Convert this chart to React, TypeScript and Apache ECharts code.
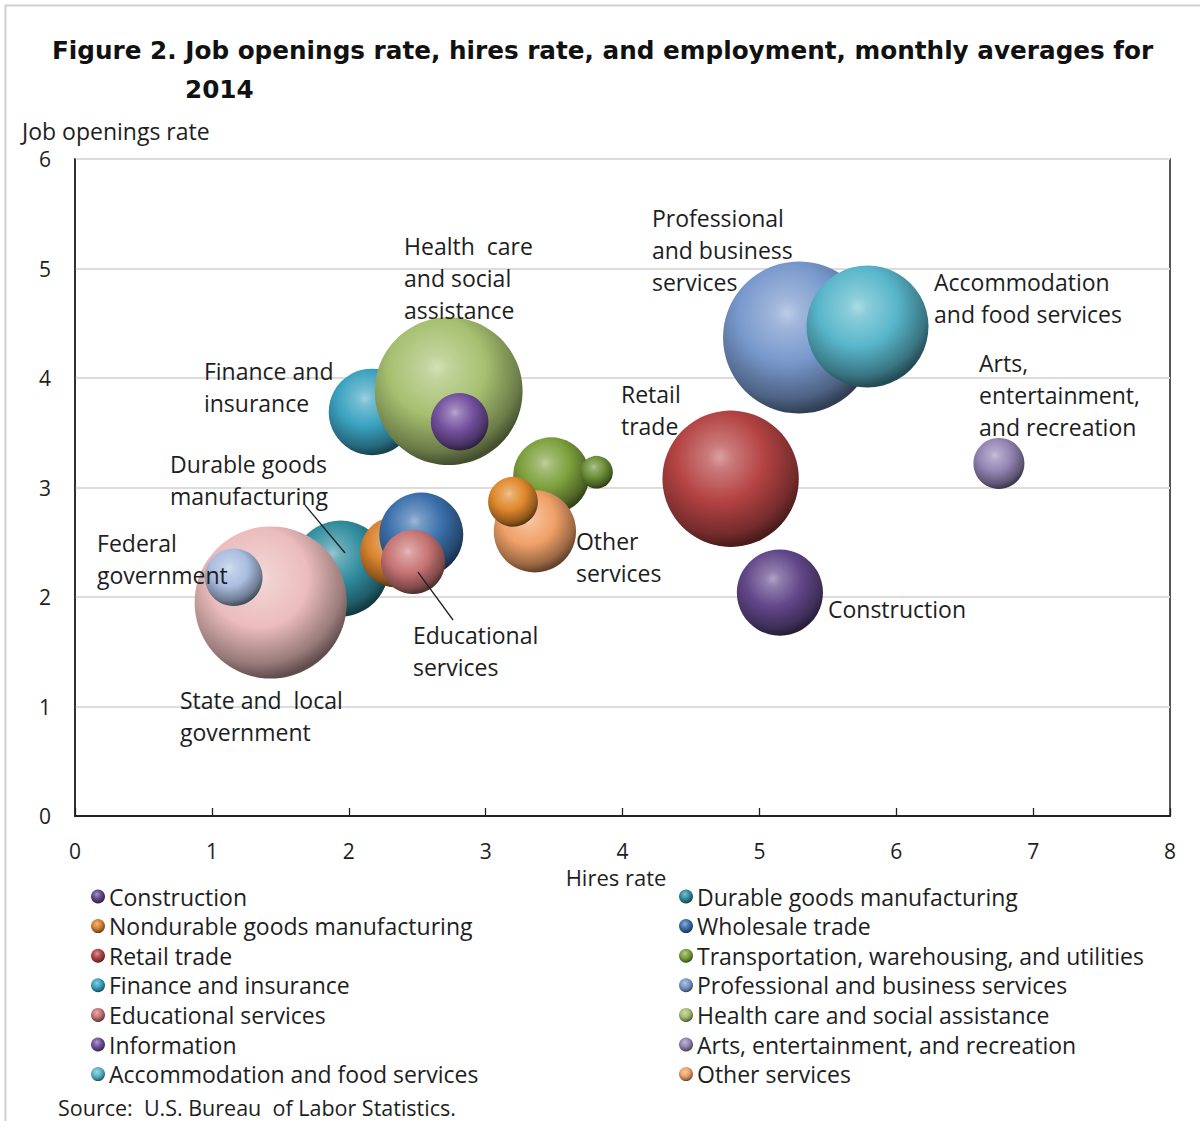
import React, { useEffect, useRef } from "react";
import * as echarts from "echarts";

// ---------- data ----------
const sectorNames = [
  "Construction",
  "Durable goods manufacturing",
  "Nondurable goods manufacturing",
  "Wholesale trade",
  "Retail trade",
  "Transportation, warehousing, and utilities",
  "Mining and logging",
  "Finance and insurance",
  "Health care and social assistance",
  "Information",
  "Professional and business services",
  "Educational services",
  "Arts, entertainment, and recreation",
  "Accommodation and food services",
  "Other services",
  "Real estate and rental and leasing",
  "State and local government",
  "Federal government",
];
const hiresRate = [5.15, 1.94, 2.34, 2.53, 4.79, 3.48, 3.81, 2.17, 2.73, 2.81, 5.29, 2.47, 6.75, 5.79, 3.36, 3.2, 1.43, 1.16];
const openingsRate = [2.04, 2.26, 2.41, 2.57, 3.08, 3.11, 3.14, 3.69, 3.88, 3.6, 4.37, 2.32, 3.22, 4.47, 2.6, 2.87, 1.95, 2.18];
const employmentThousands = [6138, 7617, 4100, 5826, 15364, 4800, 880, 6200, 18057, 2740, 19096, 3400, 2150, 12300, 5600, 2050, 19140, 2740];

const sectorColors = [
  "#62488a", "#2f8c9e", "#d9822e", "#3b70ad", "#b54343", "#7da03c", "#6c9038", "#3aa2c0", "#a6c070",
  "#74509e", "#7898cc", "#c87474", "#9384b4", "#58b6ca", "#f0a068", "#e0882c", "#ebbcbc", "#a9bde0",
];

const legendLeftNames = [
  "Construction",
  "Nondurable goods manufacturing",
  "Retail trade",
  "Finance and insurance",
  "Educational services",
  "Information",
  "Accommodation and food services",
];
const legendRightNames = [
  "Durable goods manufacturing",
  "Wholesale trade",
  "Transportation, warehousing, and utilities",
  "Professional and business services",
  "Health care and social assistance",
  "Arts, entertainment, and recreation",
  "Other services",
];

const xAxisMin = 0, xAxisMax = 8, yAxisMin = 0, yAxisMax = 6;

// annotation texts and their anchors in data units (hires rate, job openings rate)
const annotationTexts = [
  "Professional\nand business\nservices",
  "Health  care\nand social\nassistance",
  "Finance and\ninsurance",
  "Retail\ntrade",
  "Accommodation\nand food services",
  "Arts,\nentertainment,\nand recreation",
  "Durable goods\nmanufacturing",
  "Federal\ngovernment",
  "Other\nservices",
  "Construction",
  "Educational\nservices",
  "State and  local\ngovernment",
];
const annotationAnchors = [
  [4.215, 5.607], [2.404, 5.352], [0.942, 4.21], [3.989, 4.0], [6.276, 5.023], [6.605, 4.283],
  [0.694, 3.361], [0.161, 2.639], [3.66, 2.658], [5.501, 2.037], [2.469, 1.799], [0.767, 1.205],
];
const leaderLines = [
  [[1.68, 2.84], [1.973, 2.402]],
  [[2.506, 2.228], [2.762, 1.79]],
];

// ---------- helpers ----------
function mix(hex: string, target: string, t: number) {
  const a = parseInt(hex.slice(1), 16), b = parseInt(target.slice(1), 16);
  const ch = (v: number, s: number) => (v >> s) & 255;
  const r = Math.round(ch(a, 16) + (ch(b, 16) - ch(a, 16)) * t);
  const g = Math.round(ch(a, 8) + (ch(b, 8) - ch(a, 8)) * t);
  const bl = Math.round(ch(a, 0) + (ch(b, 0) - ch(a, 0)) * t);
  return "#" + ((1 << 24) + (r << 16) + (g << 8) + bl).toString(16).slice(1);
}
function sphere(hex: string) {
  return {
    type: "radial",
    x: 0.42,
    y: 0.34,
    r: 0.72,
    colorStops: [
      { offset: 0, color: mix(hex, "#ffffff", 0.5) },
      { offset: 0.12, color: mix(hex, "#ffffff", 0.3) },
      { offset: 0.45, color: hex },
      { offset: 0.78, color: mix(hex, "#000000", 0.35) },
      { offset: 0.92, color: mix(hex, "#000000", 0.6) },
      { offset: 1, color: mix(hex, "#000000", 0.45) },
    ],
  };
}

const LABEL_FONT = '"Open Sans", sans-serif';
const TEXT_COLOR = "#1e1e1e";

export default function App() {
  const ref = useRef<HTMLDivElement>(null);
  useEffect(() => {
    if (!ref.current) return;
    const chart = echarts.init(ref.current, undefined, { renderer: "svg" });

    const bubbleSeries = sectorNames.map((name, i) => ({
      name,
      type: "scatter",
      data: [[hiresRate[i], openingsRate[i], employmentThousands[i]]],
      symbol: "circle",
      symbolSize: (v: number[]) => 1.1 * Math.sqrt(v[2]),
      itemStyle: { color: sphere(sectorColors[i]), opacity: 1 },
      emphasis: { disabled: true },
      silent: true,
      z: 2,
    }));
    const lineSeries = leaderLines.map((pts, i) => ({
      name: "leader" + i,
      type: "line",
      data: pts,
      symbol: "none",
      lineStyle: { color: "#222", width: 1.3 },
      silent: true,
      z: 5,
    }));

    const legendCommon = {
      orient: "vertical",
      itemWidth: 14,
      itemHeight: 14,
      itemGap: 6.6,
      icon: "circle",
      selectedMode: false,
      padding: 0,
      textStyle: { fontFamily: LABEL_FONT, fontSize: 23, lineHeight: 23, color: TEXT_COLOR, padding: [0, 0, 0, -1] },
    };

    chart.setOption({
      animation: false,
      backgroundColor: "#ffffff",
      grid: { left: 75, top: 159, right: 30, bottom: 305, show: true, borderColor: "#222", borderWidth: 1.5, backgroundColor: "transparent" },
      xAxis: {
        type: "value",
        min: xAxisMin,
        max: xAxisMax,
        interval: 1,
        axisLine: { show: true, lineStyle: { color: "#222", width: 2 } },
        axisTick: { show: true, inside: true, length: 8, lineStyle: { color: "#222", width: 1.3 } },
        axisLabel: { fontFamily: LABEL_FONT, fontSize: 21, color: TEXT_COLOR, margin: 24 },
        splitLine: { show: false },
      },
      yAxis: {
        type: "value",
        min: yAxisMin,
        max: yAxisMax,
        interval: 1,
        axisLine: { show: true, lineStyle: { color: "#222", width: 1.5 } },
        axisTick: { show: false },
        axisLabel: { fontFamily: LABEL_FONT, fontSize: 21, color: TEXT_COLOR, margin: 24 },
        splitLine: { show: true, lineStyle: { color: "#dcdcdc", width: 2 } },
      },
      legend: [
        { ...legendCommon, left: 91, top: 885, data: legendLeftNames },
        { ...legendCommon, left: 679, top: 885, data: legendRightNames },
      ],
      series: [...bubbleSeries, ...lineSeries],
    });

    const annotations = annotationTexts.map((text, i) => {
      const p = chart.convertToPixel({ gridIndex: 0 }, annotationAnchors[i]) as number[];
      return {
        type: "text",
        x: p[0],
        y: p[1],
        z: 100,
        silent: true,
        style: { text, fontFamily: LABEL_FONT, fontSize: 23, lineHeight: 32, fill: TEXT_COLOR, align: "left", verticalAlign: "top" },
      };
    });

    chart.setOption({
      graphic: [
        { type: "line", shape: { x1: 5, y1: 5.5, x2: 1200, y2: 5.5 }, style: { stroke: "#cfcfcf", lineWidth: 2 }, silent: true },
        { type: "line", shape: { x1: 5.5, y1: 5, x2: 5.5, y2: 1121 }, style: { stroke: "#cfcfcf", lineWidth: 2 }, silent: true },
        {
          type: "text", x: 52, y: 50, silent: true,
          style: { text: "Figure 2. Job openings rate, hires rate, and employment, monthly averages for", fontFamily: '"DejaVu Sans", sans-serif', fontWeight: "bold", fontSize: 24.7, fill: "#111", align: "left", verticalAlign: "middle" },
        },
        {
          type: "text", x: 185, y: 89, silent: true,
          style: { text: "2014", fontFamily: '"DejaVu Sans", sans-serif', fontWeight: "bold", fontSize: 24.7, fill: "#111", align: "left", verticalAlign: "middle" },
        },
        {
          type: "text", x: 22, y: 131, silent: true,
          style: { text: "Job openings rate", fontFamily: LABEL_FONT, fontSize: 23, fill: TEXT_COLOR, align: "left", verticalAlign: "middle" },
        },
        {
          type: "text", x: 616, y: 877, silent: true,
          style: { text: "Hires rate", fontFamily: LABEL_FONT, fontSize: 22, fill: TEXT_COLOR, align: "center", verticalAlign: "middle" },
        },
        {
          type: "text", x: 58, y: 1107, silent: true,
          style: { text: "Source:  U.S. Bureau  of Labor Statistics.", fontFamily: LABEL_FONT, fontSize: 21.5, lineHeight: 22, fill: TEXT_COLOR, align: "left", verticalAlign: "middle" },
        },
        ...annotations,
      ],
    });

    return () => chart.dispose();
  }, []);

  return <div ref={ref} style={{ position: "absolute", left: 0, top: 0, width: 1200, height: 1121 }} />;
}
